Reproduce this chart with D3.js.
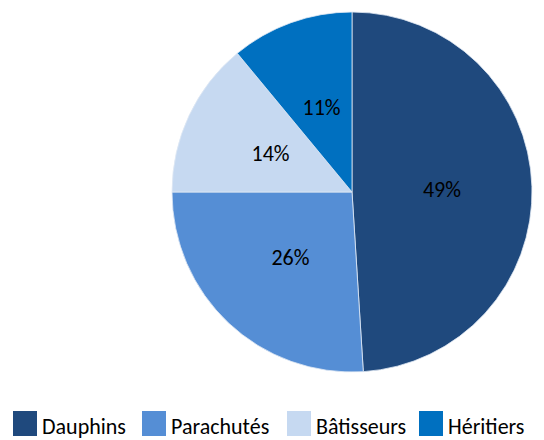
<!DOCTYPE html>
<html>
<head>
<meta charset="utf-8">
<script src="https://cdn.jsdelivr.net/npm/d3@7"></script>
<style>
    body { margin: 0; background: #fff; }
    svg { display: block; }
    text { font-family: Carlito, Lato, "Open Sans", sans-serif; }
</style>
</head>
<body>
<div id="chart"></div>
<script>
const categories = ["Dauphins", "Parachutés", "Bâtisseurs", "Héritiers"];
const shares = [49, 26, 14, 11];
const colors = ["#1F497D", "#558ED5", "#C6D9F1", "#0070C0"];

class PieChart{
    constructor(parentSelector){
        this.parent = d3.select(parentSelector);
        this.wSvg = 544;
        this.hSvg = 440;
        this.cx = 352;
        this.cy = 192;
        this.r = 180;

        this.dataset = categories.map((name, i) => ({ name, value: shares[i], color: colors[i] }));
        this.init();
    }

    init(){
        this.svg = this.parent.append("svg")
            .attr("width", this.wSvg)
            .attr("height", this.hSvg);

        this.pie = d3.pie().sort(null).value(d => d.value);
        this.arc = d3.arc().innerRadius(0).outerRadius(this.r);

        this.renderPie();
        this.renderLegend();
    }

    renderPie(){
        const g = this.svg.append("g")
            .attr("transform", `translate(${this.cx},${this.cy})`);

        const arcs = this.pie(this.dataset);

        g.selectAll("path")
            .data(arcs)
            .enter()
            .append("path")
                .attr("d", this.arc)
                .attr("fill", d => d.data.color)
                .attr("stroke", "#dfe8f4")
                .attr("stroke-width", 0.8);

        g.selectAll("text")
            .data(arcs)
            .enter()
            .append("text")
                .attr("x", d => this.arc.centroid(d)[0])
                .attr("y", d => this.arc.centroid(d)[1])
                .attr("text-anchor", "middle")
                .attr("dominant-baseline", "central")
                .attr("font-size", 22)
                .attr("fill", "#000")
                .text(d => d.data.value + "%");
    }

    renderLegend(){
        // x offsets of each legend entry, as in the original layout
        const offsets = [13, 142, 287, 419];

        const items = this.svg.append("g").classed("legend", true)
            .selectAll("g")
            .data(this.dataset)
            .enter()
            .append("g")
                .attr("transform", (d, i) => `translate(${offsets[i]},411)`);

        items.append("rect")
            .attr("width", 24)
            .attr("height", 25)
            .attr("fill", d => d.color);

        items.append("text")
            .attr("x", 29)
            .attr("y", 23)
            .attr("font-size", 22)
            .attr("fill", "#000")
            .text(d => d.name);
    }
}

new PieChart("#chart");
</script>
</body>
</html>
